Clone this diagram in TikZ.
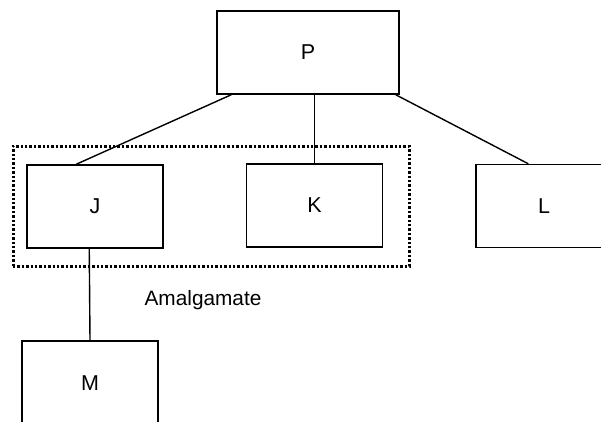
\documentclass[tikz,border=0pt]{standalone}
\usepackage{fontspec}
\setmainfont{Liberation Sans}
\begin{document}
\begin{tikzpicture}[x=1pt,y=-1pt,
  box/.style={draw=black,line width=1.5pt,rectangle,minimum width=136pt,minimum height=83pt,inner sep=0pt,font=\fontsize{21.5}{24}\selectfont},
  conn/.style={draw=black,line width=1.4pt},
  group/.style={draw=black,line width=3pt,dash pattern=on 2.4pt off 2pt,rectangle,minimum width=396pt,minimum height=120pt,inner sep=0pt}]
\useasboundingbox (0,0) rectangle (601,421);
\node[group] (grp) at (211,206) {};
\node[box,minimum width=182pt] (P) at (308,52.5) {P};
\node[box] (J) at (95,206.5) {J};
\node[box] (K) at (314.5,205.5) {K};
\node[box] (L) at (544,206) {L};
\node[box,minimum height=85pt] (M) at (90,383.5) {M};
\node[font=\fontsize{20.8}{24}\selectfont] (amal) at (203,300) {Amalgamate};
\draw[conn] ([xshift=15pt]P.south west) -- ([xshift=50pt]J.north west);
\draw[conn] (P.south -| K.north) -- (K.north);
\draw[conn] ([xshift=-4pt]P.south east) -- ([xshift=53pt]L.north west);
\draw[conn] ([xshift=63pt]J.south west) -- (M.north);
\end{tikzpicture}
\end{document}
